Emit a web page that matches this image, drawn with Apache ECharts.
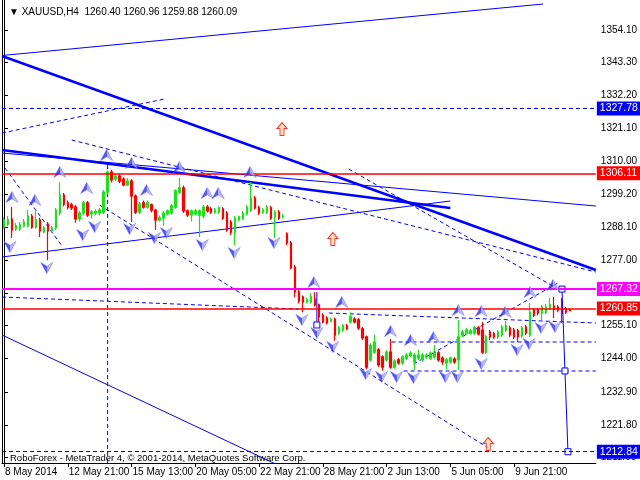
<!DOCTYPE html>
<html><head><meta charset="utf-8">
<script src="https://cdn.jsdelivr.net/npm/echarts@6/dist/echarts.min.js"></script>
<style>html,body{margin:0;padding:0;background:#fff}#c{width:640px;height:480px}</style>
</head><body><div id="c"></div>
<script>
const symbolName = 'XAUUSD', timeframe = 'H4';
const footerText = 'RoboForex - MetaTrader 4, © 2001-2014, MetaQuotes Software Corp.';

const opens = [1288.1,1289.1,1290.8,1287.5,1287.5,1288.5,1288.5,1291.8,1288.1,1290.5,1286.5,1289.1,1286.8,1287.8,1292.8,1298.8,1296.2,1295.5,1294.8,1290.8,1292.8,1296.2,1292.5,1292.8,1292.8,1293.1,1299.8,1306.5,1304.2,1305.2,1304.2,1302.2,1303.5,1298.5,1293.1,1296.2,1294.8,1295.5,1293.8,1290.5,1291.2,1292.5,1292.8,1294.8,1299.8,1301.2,1293.5,1292.2,1292.5,1292.1,1291.8,1294.8,1294.2,1293.1,1293.1,1294.2,1292.8,1289.8,1286.4,1290.5,1291.1,1292.5,1293.8,1297.8,1294.5,1293.1,1293.1,1294.5,1291.5,1293.1,1291.5,1285.8,1282.8,1274.7,1266.4,1264.7,1263.0,1263.0,1264.0,1262.0,1258.6,1257.6,1256.6,1257.3,1252.6,1253.6,1255.0,1256.3,1257.3,1257.0,1254.0,1251.3,1243.6,1246.2,1247.0,1244.6,1243.6,1246.2,1241.2,1243.6,1242.6,1244.2,1245.0,1243.0,1244.2,1243.6,1244.6,1244.2,1244.6,1246.0,1244.2,1242.6,1242.9,1243.9,1243.6,1252.0,1252.6,1252.6,1252.6,1254.3,1253.6,1246.2,1252.9,1252.3,1251.3,1252.0,1253.6,1254.3,1253.6,1253.3,1251.6,1254.6,1252.0,1260.3,1260.3,1259.3,1259.6,1261.0,1261.6,1261.3,1261.0,1260.6,1260.40];
const closes = [1290.5,1290.5,1287.1,1288.5,1288.8,1289.8,1291.8,1288.1,1290.5,1286.8,1287.8,1286.8,1287.8,1293.8,1298.8,1295.8,1294.8,1294.5,1290.8,1292.8,1296.2,1292.1,1293.1,1293.3,1293.8,1299.8,1306.5,1303.9,1305.2,1303.5,1302.2,1303.5,1298.5,1293.1,1295.8,1294.8,1296.2,1293.8,1290.5,1291.2,1292.8,1293.5,1295.2,1300.2,1301.2,1293.5,1292.2,1293.5,1293.5,1293.5,1294.8,1293.5,1293.1,1293.8,1294.5,1291.1,1287.1,1286.4,1291.1,1291.5,1292.8,1294.8,1297.8,1294.5,1292.8,1293.8,1294.8,1291.1,1293.1,1291.1,1291.8,1282.8,1274.4,1266.4,1263.3,1263.0,1263.8,1264.7,1262.0,1258.0,1256.3,1256.0,1257.3,1251.9,1254.3,1255.0,1254.0,1258.0,1256.3,1254.3,1251.0,1241.2,1248.6,1249.6,1241.9,1241.2,1246.2,1241.2,1243.2,1242.6,1244.6,1245.2,1245.9,1245.2,1245.2,1245.2,1245.2,1245.9,1246.2,1243.6,1242.9,1243.6,1244.2,1242.9,1251.3,1252.9,1253.6,1253.3,1254.3,1252.3,1246.2,1251.3,1251.3,1251.3,1252.9,1254.6,1255.0,1252.0,1251.3,1251.3,1254.3,1252.6,1259.6,1258.6,1259.3,1261.3,1261.3,1262.0,1260.6,1260.3,1259.3,1259.6,1260.09];
const lows = [1287.5,1288.5,1284.4,1286.8,1286.8,1288.0,1288.0,1287.5,1287.5,1284.8,1286.0,1277.0,1286.2,1287.0,1292.0,1295.0,1294.0,1293.8,1289.5,1290.0,1292.0,1291.5,1291.0,1292.0,1292.0,1292.5,1299.0,1303.0,1303.5,1302.8,1301.8,1301.8,1289.8,1292.5,1292.5,1294.2,1294.2,1293.0,1287.1,1290.0,1288.5,1292.0,1292.3,1294.2,1299.2,1292.8,1291.5,1290.0,1292.0,1284.8,1291.0,1293.0,1292.5,1292.5,1292.5,1290.5,1286.5,1285.4,1282.1,1290.0,1290.5,1292.0,1293.1,1294.0,1292.2,1292.5,1292.5,1290.5,1284.4,1290.5,1291.0,1282.1,1274.0,1264.7,1262.5,1259.6,1262.5,1262.5,1261.5,1256.3,1255.8,1255.5,1256.2,1250.0,1252.0,1253.0,1253.5,1255.8,1255.8,1253.6,1250.3,1240.5,1243.0,1245.6,1241.2,1240.0,1243.0,1240.6,1240.6,1242.0,1242.0,1243.6,1244.5,1240.2,1243.6,1243.0,1244.0,1243.6,1244.0,1243.0,1242.0,1240.5,1242.3,1242.3,1240.2,1251.3,1252.0,1252.0,1252.0,1251.8,1245.6,1245.6,1250.3,1250.6,1250.6,1251.3,1253.0,1251.3,1250.6,1249.6,1251.0,1252.0,1251.3,1258.0,1258.6,1257.0,1259.0,1260.5,1257.6,1259.6,1256.0,1259.0,1259.88];
const highs = [1291.5,1291.8,1294.8,1289.5,1289.8,1290.8,1293.8,1292.5,1294.0,1291.2,1288.5,1289.8,1288.5,1294.5,1303.2,1299.5,1297.0,1296.2,1295.5,1293.5,1296.8,1296.8,1293.8,1294.0,1294.5,1300.5,1307.0,1307.3,1305.8,1305.8,1304.8,1304.5,1304.2,1299.0,1296.5,1297.0,1297.0,1296.0,1294.2,1292.0,1293.5,1294.0,1295.8,1300.8,1304.5,1302.0,1294.0,1294.0,1294.2,1294.0,1295.5,1295.5,1294.8,1294.5,1295.0,1294.8,1293.5,1290.5,1291.8,1292.0,1293.5,1295.5,1303.2,1298.5,1295.2,1294.5,1295.5,1295.2,1293.8,1293.8,1292.5,1286.4,1283.4,1275.4,1267.0,1265.2,1264.5,1266.0,1266.3,1262.5,1259.2,1258.2,1257.8,1257.8,1255.0,1255.6,1255.6,1259.6,1258.0,1257.6,1254.6,1251.8,1249.2,1252.0,1247.6,1245.2,1246.8,1250.6,1243.8,1244.2,1245.2,1246.0,1246.5,1246.0,1247.0,1246.0,1245.8,1246.5,1248.6,1246.6,1244.8,1244.2,1244.8,1244.5,1257.0,1253.6,1254.3,1254.0,1255.0,1255.0,1256.3,1252.0,1253.6,1253.0,1253.6,1255.3,1256.6,1255.0,1254.3,1254.0,1255.0,1255.3,1262.7,1261.0,1261.0,1262.0,1262.3,1264.3,1264.7,1262.0,1264.3,1261.3,1260.96];

const timeTickLabels = ['8 May 2014','12 May 21:00','15 May 13:00','20 May 05:00','22 May 21:00','28 May 21:00','2 Jun 13:00','5 Jun 05:00','9 Jun 21:00'];
const barsPerTimeTick = 16;
const totalSlots = 149;
const priceTicks = [1211.00,1221.80,1232.90,1244.00,1255.10,1266.00,1277.00,1288.10,1299.20,1310.00,1321.10,1332.20,1343.30,1354.10];
const priceMin = 1209.07, priceMax = 1364.15;

const levelDashedBlue = [1327.78, 1212.84];
const levelRed = [1306.11, 1260.85];
const levelMagenta = [1267.32];

const thinSolidLines = [
  [[-0.5,1345.56],[135.25,1362.81]],
  [[-0.5,1312.90],[148.5,1295.15]],
  [[-0.5,1278.07],[112,1296.82]],
  [[-0.5,1251.94],[69,1208.2]]
];
const thickSolidLines = [
  [[-0.5,1345.39],[148.5,1273.71]],
  [[-0.5,1313.91],[112,1294.48]]
];
const dashedLines = [
  [[26,1308.88],[26,1200]],
  [[-0.5,1319.60],[40.25,1330.99]],
  [[17,1317.26],[148.5,1273.04]],
  [[0.25,1307.88],[14.75,1281.42]],
  [[24,1295.48],[121.5,1214.10]],
  [[-0.5,1264.67],[74,1260.65]],
  [[81.5,1259.31],[148.5,1255.96]],
  [[97,1242.90],[97,1249.60],[148.5,1249.60]],
  [[100.25,1239.88],[148.5,1239.88]],
  [[102.75,1242.23],[139,1269.36]],
  [[86.5,1307.54],[139,1267.35]]
];
const projectionPath = [[140,1267.32],[140.75,1239.9],[141.5,1212.84]];
const earlierProjection = [[78.5,1266.35],[78.5,1255.3]];

const upFractals = [[2,1298.17],[7.75,1297.16],[14,1306.54],[20.75,1301.18],[25.75,1312.23],[32,1309.55],[35.75,1300.51],[44,1308.21],[51,1299.50],[53.75,1299.50],[61.75,1306.54],[77.75,1269.69],[84.75,1262.99],[97,1253.28],[102,1250.27],[107.75,1251.27],[114,1260.32],[119.75,1259.98],[125.75,1259.65],[132,1266.35],[137.75,1268.69]];
const downFractals = [[1.5,1281.42],[10.75,1274.39],[19.75,1285.44],[22.75,1288.12],[31.5,1287.45],[37.75,1284.43],[40.75,1286.11],[49.75,1282.09],[57.75,1279.41],[67.75,1282.76],[74.75,1256.97],[78.5,1252.61],[82.5,1247.92],[90.75,1238.88],[94.75,1237.88],[98.5,1237.88],[102.75,1237.54],[110.75,1237.88],[113.75,1237.88],[119.75,1242.23],[128.75,1246.92],[131.75,1248.93],[134.75,1254.29],[138.25,1254.62]];
const buySignals = [[69.75,1320.94],[82.5,1284.10],[121.5,1215.43]];

// ---- build ----
const FONT = "'Liberation Sans',Arial,sans-serif";
const BLUE = '#0000ff';
const categories = [];
for (let i = 0; i < totalSlots; i++) {
  const t = i % barsPerTimeTick === 0 ? timeTickLabels[i / barsPerTimeTick] : undefined;
  categories.push(t || '');
}
const candles = opens.map((o, i) => [o, closes[i], lows[i], highs[i]]);
const fmt = v => v.toFixed(2);
const last = candles.length - 1;
const header = '\u25BC ' + symbolName + ',' + timeframe + '  ' + fmt(opens[last]) + ' ' + fmt(highs[last]) + ' ' + fmt(lows[last]) + ' ' + fmt(closes[last]);

function tag(v, color) {
  return {yAxis: v, label: {show: true, position: 'end', distance: 1, formatter: fmt(v), color: '#fff',
    backgroundColor: color, padding: [2, 3, 1, 3], fontSize: 10.5, fontFamily: FONT}};
}

const series = [];
series.push({
  type: 'candlestick', xAxisIndex: 0, yAxisIndex: 0, data: candles, barWidth: 2,
  itemStyle: {color: '#1ee01e', color0: '#ff0000', borderColor: '#1ee01e', borderColor0: '#ff0000', borderWidth: 1.2},
  markLine: {
    silent: true, symbol: 'none', animation: false, precision: 2,
    data: [
      ...levelDashedBlue.map(v => Object.assign(tag(v, BLUE), {lineStyle: {color: BLUE, type: [4, 3], width: 1}})),
      ...levelRed.map(v => Object.assign(tag(v, '#ff0000'), {lineStyle: {color: '#ff0000', type: 'solid', width: 1.5}})),
      ...levelMagenta.map(v => Object.assign(tag(v, '#ff00ff'), {lineStyle: {color: '#ff00ff', type: 'solid', width: 2}}))
    ]
  },
  z: 3
});
function lineSeries(pts, width, dash) {
  return {type: 'line', xAxisIndex: 1, yAxisIndex: 0, data: pts, symbol: 'none', silent: true, clip: true,
    lineStyle: {color: BLUE, width: width, type: dash || 'solid'}, z: 2};
}
thinSolidLines.forEach(p => series.push(lineSeries(p, 1)));
thickSolidLines.forEach(p => series.push(lineSeries(p, 2.5)));
dashedLines.forEach(p => series.push(lineSeries(p, 1, [4, 3])));
series.push({type: 'line', xAxisIndex: 1, yAxisIndex: 0, data: projectionPath, symbol: 'rect', symbolSize: 6,
  showAllSymbol: true, silent: true, lineStyle: {color: BLUE, width: 1},
  itemStyle: {color: '#fff', borderColor: BLUE, borderWidth: 1}, z: 4});
series.push({type: 'line', xAxisIndex: 1, yAxisIndex: 0,
  data: earlierProjection.map((p, i) => ({value: p, symbol: i === earlierProjection.length - 1 ? 'rect' : 'none'})),
  symbolSize: 6, showAllSymbol: true, silent: true, lineStyle: {color: BLUE, width: 1},
  itemStyle: {color: '#fff', borderColor: BLUE, borderWidth: 1}, z: 4});

const upPath = 'path://M6,0 L12,12 L6,8 L0,12 Z';
const downPath = 'path://M0,0 L6,4 L12,0 L6,12 Z';
const fractalStyle = {color: {type: 'linear', x: 0, y: 0, x2: 1, y2: 0,
  colorStops: [{offset: 0, color: '#2020e0'}, {offset: 0.5, color: '#3030f0'}, {offset: 0.51, color: '#9a9af5'}, {offset: 1, color: '#c8c8ff'}]},
  borderColor: '#6060ff', borderWidth: 0.6};
series.push({type: 'scatter', xAxisIndex: 1, yAxisIndex: 0, data: upFractals, symbol: upPath, symbolSize: [12, 11],
  silent: true, itemStyle: fractalStyle, z: 5});
series.push({type: 'scatter', xAxisIndex: 1, yAxisIndex: 0, data: downFractals, symbol: downPath, symbolSize: [12, 11],
  silent: true, itemStyle: fractalStyle, z: 5});
series.push({type: 'scatter', xAxisIndex: 1, yAxisIndex: 0, data: buySignals,
  symbol: 'path://M5,0 L10,6 L7,6 L7,13 L3,13 L3,6 L0,6 Z', symbolSize: [10, 13],
  silent: true, itemStyle: {color: '#ffe0b0', borderColor: '#ff0000', borderWidth: 1}, z: 5});

const chart = echarts.init(document.getElementById('c'), null, {renderer: 'canvas'});
chart.setOption({
  animation: false,
  backgroundColor: '#ffffff',
  title: [
    {text: header, left: 4, top: 2, textStyle: {fontSize: 10, fontWeight: 'normal', color: '#000', fontFamily: FONT}},
    {text: footerText, left: 5, top: 448, textStyle: {fontSize: 9.5, fontWeight: 'normal', color: '#000', fontFamily: FONT}}
  ],
  grid: {left: 2, right: 42, top: 0, bottom: 17, show: false},
  xAxis: [
    {type: 'category', data: categories, boundaryGap: true,
      axisLine: {show: true, lineStyle: {color: '#000'}},
      axisTick: {show: true, alignWithLabel: true, length: 4, interval: (i, v) => v !== '', lineStyle: {color: '#000'}},
      axisLabel: {interval: (i, v) => v !== '', align: 'left', margin: 4, color: '#000', fontSize: 10, fontFamily: FONT, padding: [0, 0, 0, 1]},
      splitLine: {show: false}},
    {type: 'value', min: -0.5, max: totalSlots - 0.5, show: false}
  ],
  yAxis: [{
    type: 'value', position: 'right', min: priceMin, max: priceMax, scale: true,
    axisLine: {show: true, lineStyle: {color: '#000'}},
    axisTick: {show: true, length: 4, customValues: priceTicks, lineStyle: {color: '#000'}},
    axisLabel: {customValues: priceTicks, formatter: v => v.toFixed(2), color: '#000', fontSize: 10, fontFamily: FONT, margin: 5},
    splitLine: {show: false}
  }, {
    type: 'value', position: 'left', min: priceMin, max: priceMax,
    axisLine: {show: true, onZero: false, lineStyle: {color: '#000'}},
    axisTick: {show: false}, axisLabel: {show: false}, splitLine: {show: false}
  }],
  series: series
});
</script>
</body></html>
